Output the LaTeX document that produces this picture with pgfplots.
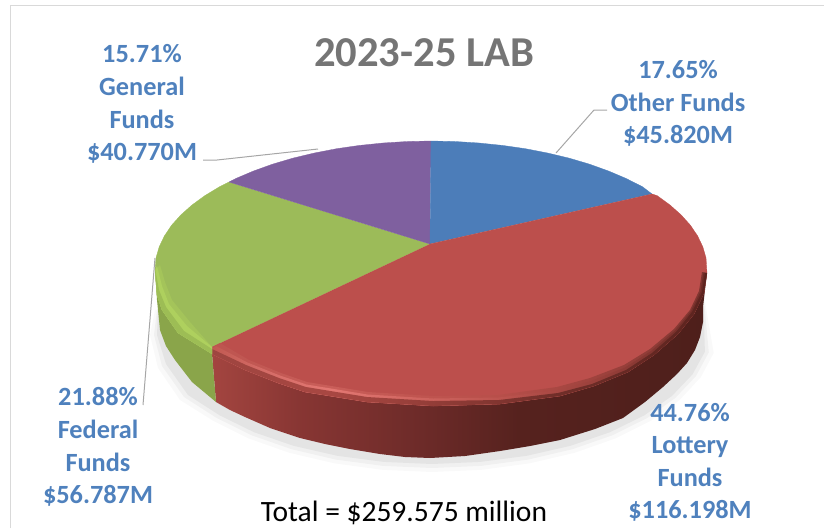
\documentclass[border=0pt]{standalone}
\usepackage{pgfplots}
\pgfplotsset{compat=1.18}
\usepackage{fontspec}
\setmainfont{Carlito}
\definecolor{lab}{HTML}{4F81BD}
\definecolor{ttl}{HTML}{757575}
\definecolor{lead}{HTML}{A6A6A6}
\definecolor{frm}{HTML}{D9D9D9}
\definecolor{cblue}{HTML}{4C7DB9}
\definecolor{cred}{HTML}{BC4F4C}
\definecolor{cgreen}{HTML}{9CBB59}
\definecolor{cpurple}{HTML}{7F609F}
\pgfdeclarehorizontalshading{redside}{100bp}{rgb(0bp)=(.64,.27,.25);rgb(25bp)=(.64,.27,.25);rgb(34bp)=(.53,.21,.20);rgb(47bp)=(.42,.165,.157);rgb(56bp)=(.337,.133,.118);rgb(75bp)=(.306,.122,.106);rgb(100bp)=(.306,.122,.106)}
\pgfdeclarehorizontalshading{redba}{100bp}{rgb(0bp)=(.74,.33,.31);rgb(25bp)=(.74,.33,.31);rgb(37bp)=(.79,.37,.35);rgb(44bp)=(.76,.34,.32);rgb(54bp)=(.72,.31,.29);rgb(64bp)=(.62,.26,.24);rgb(75bp)=(.50,.21,.19);rgb(100bp)=(.50,.21,.19)}
\pgfdeclarehorizontalshading{redbb}{100bp}{rgb(0bp)=(.76,.35,.32);rgb(25bp)=(.76,.35,.32);rgb(30bp)=(.83,.42,.40);rgb(37bp)=(.89,.47,.45);rgb(44bp)=(.83,.41,.39);rgb(54bp)=(.74,.33,.31);rgb(64bp)=(.60,.25,.23);rgb(75bp)=(.42,.17,.15);rgb(100bp)=(.42,.17,.15)}
\pgfdeclarehorizontalshading{redbc}{100bp}{rgb(0bp)=(.62,.27,.25);rgb(25bp)=(.62,.27,.25);rgb(37bp)=(.66,.28,.26);rgb(47bp)=(.58,.24,.22);rgb(60bp)=(.44,.18,.16);rgb(75bp)=(.36,.14,.12);rgb(100bp)=(.36,.14,.12)}
\newcommand{\lbl}[3]{\node[anchor=base,inner sep=0pt,text=lab,font=\fontsize{26.3}{26.3}\selectfont\bfseries] at (axis cs:#1,#2) {#3};}
\begin{document}
\begin{tikzpicture}
\begin{axis}[
  width=824pt,height=528pt,scale only axis,
  xmin=0,xmax=824,ymin=0,ymax=528,y dir=reverse,
  axis lines=none,clip=false,no markers,
  every axis plot/.append style={line join=round}
]
% frame
\addplot[frm,line width=1pt] coordinates {(10,528) (10,5) (824,5)};
% shadow
\addplot[draw=none,fill=black,fill opacity=.025] coordinates {(703,290)(713.7,353)(700.8,377.2)(679.7,400)(651.1,420.6)(615.8,438.3)(575,452.7)(529.8,463.3)(481.8,469.8)(432,472)(382.2,469.8)(334.2,463.3)(289,452.7)(248.2,438.3)(212.9,420.6)(180,400)(158,368)(150,335)(155,310)};
\addplot[draw=none,fill=black,fill opacity=.035] coordinates {(703,290)(708.8,352.4)(696.1,375.9)(675.3,398)(647.3,418)(612.6,435.2)(572.5,449.2)(528.1,459.6)(480.9,465.9)(432,468)(383.1,465.9)(335.9,459.6)(291.5,449.2)(251.4,435.2)(216.7,418)(184,397)(162,366)(154,335)(157,310)};
\addplot[draw=none,fill=black,fill opacity=.05] coordinates {(703,290)(704.9,351.7)(692.4,374.5)(671.9,396)(644.2,415.4)(610,432.2)(570.5,445.8)(526.7,455.8)(480.2,461.9)(432,464)(383.8,461.9)(337.3,455.8)(293.5,445.8)(254,432.2)(219.8,415.4)(188,395)(166,364)(157,335)(158,310)};
% sides
\addplot[draw=none,shading=redside] coordinates {(707,273)(704,293)(694,314)(678,334)(654,355)(628,372)(594,386)(560,396)(500,404)(433,406)(367,402)(305,392)(278,383)(245,370)(212,354)(216,402)(230,410)(245,417)(270,428)(300,438)(325,444)(350,449)(380,454)(405,457)(430,458)(465,456)(500,451)(530,446)(560,440)(595,429)(623,418)(645,402)(663,387)(677,374)(687,363)(695,350)(700,337)(703,322)(703,307)};
\addplot[draw=none,fill={rgb,255:red,138;green,165;blue,74}] coordinates {(212,354)(178,333)(162,310)(157,295)(155,270)(157,300)(160,330)(166,346)(175,360)(192,382)(216,402)};
% top face
\addplot[draw=cgreen,line width=.3pt,fill=cgreen] coordinates {(430,244)(212,347)(212,354)(178,333)(162,310)(157,295)(155,270)(156,257.8)(159.2,246.8)(164.4,235.9)(171.6,225.2)(180.9,214.9)(192,205)(204.9,195.6)(219.6,186.7)(229,182)};
\addplot[draw=cpurple,line width=.3pt,fill=cpurple] coordinates {(430,244)(229,182)(235.8,178.5)(253.5,171)(272.7,164.1)(293,158.1)(314.4,153)(336.6,148.7)(359.6,145.4)(383,143)(407,141.5)(431,141)};
\addplot[draw=cblue,line width=.3pt,fill=cblue] coordinates {(430,244)(431,141)(455,141.5)(479,143)(502.4,145.4)(525.4,148.7)(547.6,153)(569,158.1)(589.3,164.1)(608.5,171)(626.2,178.5)(642.4,186.7)(652,194)};
\addplot[draw=cred,line width=.3pt,fill=cred] coordinates {(430,244)(652,194)(657.1,195.6)(670,205)(681.1,214.9)(690.4,225.2)(697.6,235.9)(702.8,246.8)(706,257.8)(707,273)(704,293)(694,314)(678,334)(654,355)(628,372)(594,386)(560,396)(500,404)(433,406)(367,402)(305,392)(278,383)(245,370)(212,354)(212,347)};
% bevel, red
\addplot[draw=none,shading=redba] coordinates {(702,272)(699,291)(690,310)(674,329)(650,349)(624,365)(590,378)(557,387)(498,395)(433,396)(368,392)(307,382)(281,373)(249,360)(220,343)(212,347)(212,354)(245,370)(278,383)(305,392)(367,402)(433,406)(500,404)(560,396)(594,386)(628,372)(654,355)(678,334)(694,314)(704,293)(707,273)};
\addplot[draw=none,shading=redbb] coordinates {(703.5,272.5)(700.5,291.5)(691,311)(675,330.5)(651,351)(625,367.5)(591,381)(557.5,390)(498.5,397.5)(433,398.5)(367.5,394.5)(306.5,384.5)(280,375.5)(247.5,362.5)(216,346)(212,349)(212,354)(245,370)(278,383)(305,392)(367,402)(433,406)(500,404)(560,396)(594,386)(628,372)(654,355)(678,334)(694,314)(704,293)(707,273)};
\addplot[draw=none,shading=redbc] coordinates {(705,273)(702,292)(692,312)(676,332)(652,353)(626,370)(592,384)(558,393)(499,400)(433,401)(367,397)(306,387)(279,378)(246,365)(212,349)(212,354)(245,370)(278,383)(305,392)(367,402)(433,406)(500,404)(560,396)(594,386)(628,372)(654,355)(678,334)(694,314)(704,293)(707,273)};
% bevel, green
\addplot[draw=none,fill={rgb,255:red,164;green,196;blue,90}] coordinates {(212,347)(190,322)(172,300)(165,282)(160,265)(155,270)(157,295)(162,310)(178,333)(212,354)};
\addplot[draw=none,fill={rgb,255:red,174;green,208;blue,94}] coordinates {(212,347)(187,326)(169,304)(162,286)(157,266)(155,270)(157,295)(162,310)(178,333)(212,354)};
\addplot[draw=none,fill={rgb,255:red,157;green,189;blue,85}] coordinates {(212,349)(184,331)(166,307)(159,290)(155,268)(155,270)(157,295)(162,310)(178,333)(212,354)};
% leaders
\addplot[lead,line width=1pt] coordinates {(203,160)(217,160)(318,149)};
\addplot[lead,line width=1pt] coordinates {(556,153)(594,110)(607,110)};
\addplot[lead,line width=1pt] coordinates {(143,405)(155,258)};
% text
\node[anchor=base,inner sep=0pt,text=ttl,font=\fontsize{42.6}{42.6}\selectfont\bfseries] at (axis cs:424,66) {2023-25 LAB};
\lbl{142}{62}{15.71\%}
\lbl{142}{95}{General}
\lbl{142}{128}{Funds}
\lbl{142}{160}{\$40.770M}
\lbl{678}{78}{17.65\%}
\lbl{678}{111}{Other Funds}
\lbl{678}{143}{\$45.820M}
\lbl{98}{405}{21.88\%}
\lbl{98}{438}{Federal}
\lbl{98}{471}{Funds}
\lbl{98}{503}{\$56.787M}
\lbl{690}{421}{44.76\%}
\lbl{690}{453}{Lottery}
\lbl{690}{486}{Funds}
\lbl{690}{518}{\$116.198M}
\node[anchor=base,inner sep=0pt,text=black,font=\fontsize{29.5}{29.5}\selectfont] at (axis cs:404,521) {Total = \$259.575 million};
\end{axis}
\pgfresetboundingbox
\path[use as bounding box] (0,0) rectangle (824pt,528pt);
\end{tikzpicture}
\end{document}
